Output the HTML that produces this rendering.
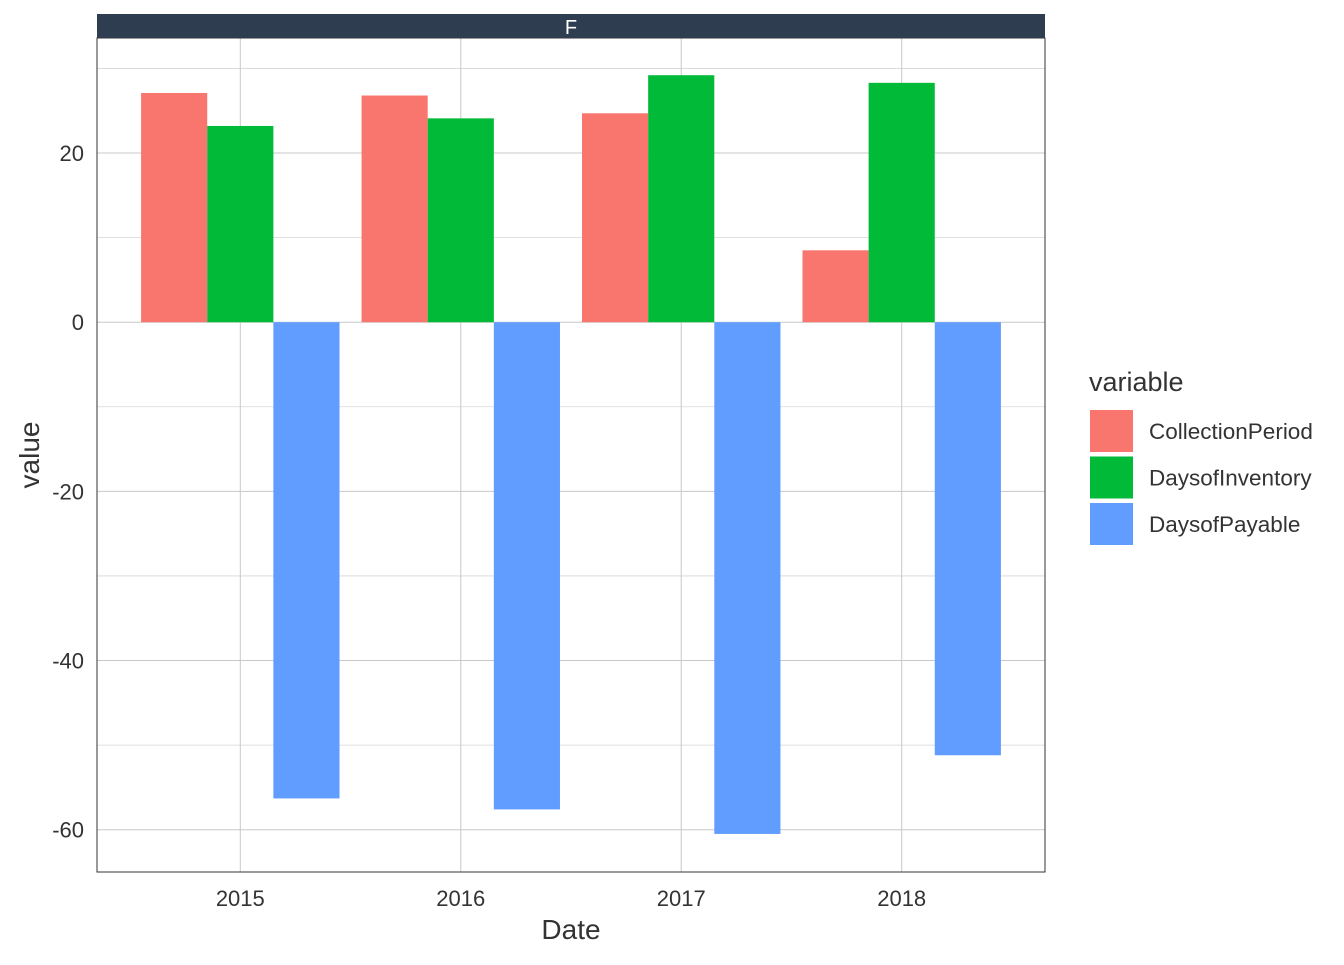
<!DOCTYPE html>
<html><head><meta charset="utf-8"><style>
body{margin:0;background:#fff;}
svg text{font-family:"Liberation Sans",Arial,sans-serif;}
</style></head><body>
<svg width="1344" height="960" xmlns="http://www.w3.org/2000/svg">
<g id="plot"></g>
</svg>
<script>
const categories = ["2015","2016","2017","2018"];
const seriesNames = ["CollectionPeriod","DaysofInventory","DaysofPayable"];
const collectionPeriod = [27.1, 26.8, 24.7, 8.5];
const daysOfInventory = [23.2, 24.1, 29.2, 28.3];
const daysOfPayable = [-56.3, -57.6, -60.5, -51.2];
const yTicks = [20, 0, -20, -40, -60];
const yMinor = [30, 10, -10, -30, -50];
const colors = ["#F8766D","#00BA38","#619CFF"];
const series=[collectionPeriod,daysOfInventory,daysOfPayable];
const NS="http://www.w3.org/2000/svg";
const g=document.getElementById('plot');
const L=97,R=1045,T=38,B=872,yMax=33.6,yMin=-65.0;
function y(v){return T+(yMax-v)/(yMax-yMin)*(B-T);}
const step=(R-L)/4.3;
function x(i){return L+step*(0.65+i);}
function mk(tag,attrs,parent){const e=document.createElementNS(NS,tag);for(const k in attrs)e.setAttribute(k,attrs[k]);(parent||g).appendChild(e);return e;}
yMinor.forEach(v=>{const l=mk('line',{x1:L,x2:R,y1:y(v),y2:y(v),stroke:'#d6d6d6','stroke-width':0.8});

});
yTicks.forEach(v=>{const l=mk('line',{x1:L,x2:R,y1:y(v),y2:y(v),stroke:'#c8c8c8','stroke-width':1});


const t=mk('text',{x:84,y:y(v)+8,'text-anchor':'end','font-size':22,fill:'#333'});t.textContent=v;

});
categories.forEach((c,i)=>{const l=mk('line',{x1:x(i),x2:x(i),y1:T,y2:B,stroke:'#c8c8c8','stroke-width':1});


const t=mk('text',{x:x(i),y:906,'text-anchor':'middle','font-size':22,fill:'#333'});t.textContent=c;

});
const bw=step*0.9/3;
series.forEach((s,j)=>{s.forEach((v,i)=>{const x0=x(i)-1.5*bw+j*bw;const y0=Math.min(y(v),y(0));
const r=mk('rect',{x:x0,y:y0,width:bw,height:Math.abs(y(v)-y(0)),fill:colors[j]});

});});
const bd=mk('rect',{x:L,y:T,width:R-L,height:B-T,fill:'none',stroke:'#333','stroke-width':1});


const st=mk('rect',{x:L,y:14,width:R-L,height:24,fill:'#2E3E50'});


const stt=mk('text',{x:(L+R)/2,y:34,'text-anchor':'middle','font-size':20,fill:'#fff'});stt.textContent='F';


const xt=mk('text',{x:571,y:939,'text-anchor':'middle','font-size':28,fill:'#333'});xt.textContent='Date';


const yt=mk('text',{x:0,y:0,'text-anchor':'middle','font-size':28,fill:'#333',transform:'translate(39,455) rotate(-90)'});yt.textContent='value';


const lt=mk('text',{x:1089,y:391,'font-size':27,fill:'#333'});lt.textContent='variable';


seriesNames.forEach((n,j)=>{const ky=410+j*46.5;
const k=mk('rect',{x:1090,y:ky,width:43,height:42,fill:colors[j]});


const t=mk('text',{x:1149,y:ky+29,'font-size':22.5,fill:'#333'});t.textContent=n;

});
</script>
</body></html>
